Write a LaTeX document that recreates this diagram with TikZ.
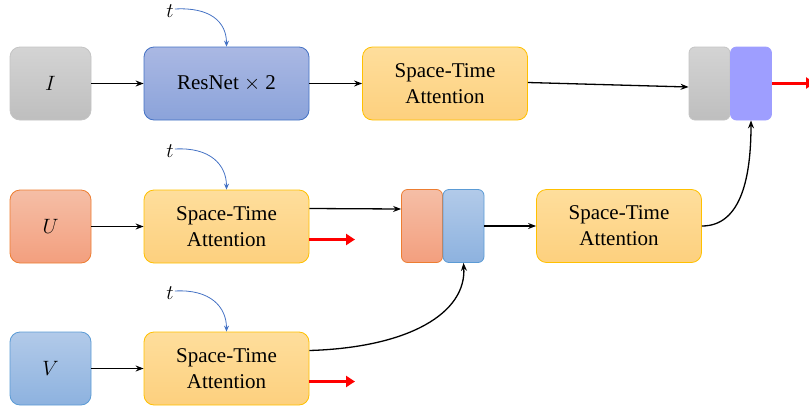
\documentclass[tikz,border=0pt]{standalone}
\usepackage{fontspec}
\setmainfont{Liberation Serif}
\usetikzlibrary{arrows.meta}
\definecolor{grayT}{HTML}{D4D4D4}
\definecolor{grayB}{HTML}{BEBEBE}
\definecolor{grayD}{HTML}{C4C4C4}
\definecolor{resT}{HTML}{AAB8E3}
\definecolor{resB}{HTML}{8BA3DA}
\definecolor{resD}{HTML}{4472C4}
\definecolor{yelT}{HTML}{FEDE9C}
\definecolor{yelB}{HTML}{FDD07E}
\definecolor{yelD}{HTML}{FFC000}
\definecolor{orT}{HTML}{F5BEA6}
\definecolor{orB}{HTML}{F39F7E}
\definecolor{orD}{HTML}{ED7D31}
\definecolor{lbT}{HTML}{B2CAE9}
\definecolor{lbB}{HTML}{8DB2DF}
\definecolor{lbD}{HTML}{5B9BD5}
\definecolor{purp}{HTML}{9E9EFF}
\definecolor{tblue}{HTML}{4472C4}
\tikzset{
  box/.style={rounded corners=10pt, minimum height=73pt, inner sep=0pt, align=center,
    font=\fontsize{21}{26}\selectfont, line width=0.8pt},
  small/.style={box, minimum width=81pt},
  big/.style={box, minimum width=165pt},
  cat/.style={rounded corners=6pt, minimum width=41pt, minimum height=73pt, inner sep=0pt, line width=0.8pt},
  grayfill/.style={top color=grayT, bottom color=grayB, draw=grayD},
  resfill/.style={top color=resT, bottom color=resB, draw=resD},
  yelfill/.style={top color=yelT, bottom color=yelB, draw=yelD},
  orfill/.style={top color=orT, bottom color=orB, draw=orD},
  lbfill/.style={top color=lbT, bottom color=lbB, draw=lbD},
  purfill/.style={fill=purp, draw=purp},
  arr/.style={line width=1.3pt, -{Stealth[length=8pt,width=6pt]}},
  redarr/.style={red, line width=3pt, -{Triangle[length=9pt,width=11pt]}},
  tarr/.style={tblue, line width=0.8pt, -{Stealth[length=6pt,width=5pt]}},
  tlabel/.style={inner sep=1pt, font=\fontsize{21}{24}\selectfont}
}
\begin{document}
\begin{tikzpicture}[x=1pt,y=-1pt]
\useasboundingbox (0,0) rectangle (809,413);
% row 1
\node[small, grayfill] (I) at (50.5,83.5) {$I$};
\node[big, resfill] (res) at (226.5,83.5) {ResNet $\times$ 2};
\node[big, yelfill] (st1) at (445,83.5) {Space-Time\\Attention};
\node[cat, grayfill] (g1) at (709.5,83.5) {};
\node[cat, purfill] (p1) at (751,83.5) {};
\node[tlabel] (t1) at (170,11) {$t$};
% row 2
\node[small, orfill] (U) at (50.5,226.5) {$U$};
\node[big, yelfill] (st2) at (226.5,226.5) {Space-Time\\Attention};
\node[cat, orfill] (o2) at (422,226) {};
\node[cat, lbfill] (b2) at (463.5,226) {};
\node[big, yelfill] (st3) at (619,226) {Space-Time\\Attention};
\node[tlabel] (t2) at (170,151) {$t$};
% row 3
\node[small, lbfill] (V) at (50.5,368.5) {$V$};
\node[big, yelfill] (st4) at (226.5,368.5) {Space-Time\\Attention};
\node[tlabel] (t3) at (170,293) {$t$};
% outputs
\coordinate (r1) at (815,83);
\coordinate (r2) at (355,239.5);
\coordinate (r3) at (355,381.5);
% connectors
\draw[arr] (I) -- (res);
\draw[arr] (res) -- (st1);
\draw[arr] ([yshift=1pt]st1.east) -- ([yshift=-3.5pt]g1.west);
\draw[redarr] (p1.east |- r1) -- (r1);
\draw[arr] (U) -- (st2);
\draw[arr] ([yshift=18pt]st2.east) -- ([yshift=17pt]o2.west);
\draw[arr] (b2) -- (st3);
\draw[arr] (st3.east) .. controls +(40,0) and +(0,55) .. (p1.south);
\draw[redarr] (st2.east |- r2) -- (r2);
\draw[arr] (V) -- (st4);
\draw[arr] ([yshift=18pt]st4.east) .. controls +(100,-3) and +(3,50) .. (b2.south);
\draw[redarr] (st4.east |- r3) -- (r3);
\draw[tarr] ([yshift=2pt]t1.east) .. controls +(35,-2) and +(0,-25) .. (res.north);
\draw[tarr] ([yshift=2pt]t2.east) .. controls +(35,-2) and +(0,-25) .. (st2.north);
\draw[tarr] ([yshift=2pt]t3.east) .. controls +(35,-2) and +(0,-25) .. (st4.north);
\end{tikzpicture}
\end{document}
